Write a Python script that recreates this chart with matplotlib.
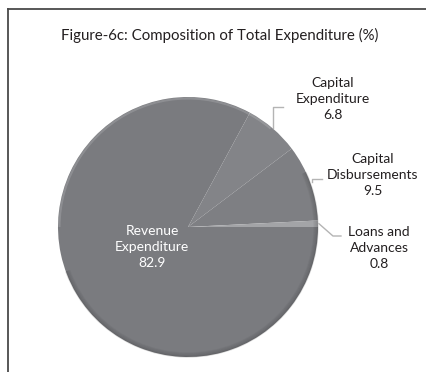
import numpy as np
import matplotlib
matplotlib.use("Agg")
import matplotlib.pyplot as plt
from matplotlib.patches import Arc
from matplotlib.lines import Line2D

plt.rcParams['font.family'] = ['Lato', 'DejaVu Sans']

# Composition of total expenditure (%), drawn clockwise from 3 o'clock
labels = ['Revenue\nExpenditure', 'Capital\nExpenditure', 'Capital\nDisbursements', 'Loans and\nAdvances']
shares = [82.9, 6.8, 9.5, 0.8]
colors = ['#7a7b7f', '#838488', '#7e7f83', '#a3a4a7']

W, H = 426, 372
fig = plt.figure(figsize=(W / 100, H / 100), dpi=100)
ax = fig.add_axes([0, 0, 1, 1])

cx, cy, r = 188, H - 227, 130
wedges, _ = ax.pie(shares, colors=colors, startangle=0, counterclock=False,
                   center=(cx, cy), radius=r, frame=True,
                   wedgeprops=dict(linewidth=0))

# soft bevel: light rim on top, gradually darker rim underneath
ax.add_patch(Arc((cx, cy), 2 * r - 3, 2 * r - 3, theta1=50, theta2=180,
                 color='white', alpha=0.15, lw=1.5))
for i, a in enumerate([0.04, 0.06, 0.08, 0.11, 0.14]):
    d = 2 * r - 8 + 2 * i
    ax.add_patch(Arc((cx, cy), d, d, theta1=200, theta2=385,
                     color='black', alpha=a, lw=1.0))

ax.set_xlim(0, W)
ax.set_ylim(0, H)
ax.set_aspect('equal')
ax.axis('off')


def rim_point(w, extra=0):
    mid = np.deg2rad((w.theta1 + w.theta2) / 2)
    return cx + (r + extra) * np.cos(mid), cy + (r + extra) * np.sin(mid)


lead = dict(color='#b4b4b4', lw=1)
txt = dict(ha='center', va='center', fontsize=10, color='#231f20', linespacing=1.4)

# Capital Expenditure
x0, y0 = rim_point(wedges[1])
ax.plot([x0, x0, x0 + 10], [y0, H - 107, H - 107], **lead)
ax.text(333, H - 99, f"{labels[1]}\n{shares[1]}", **txt)

# Capital Disbursements
x0, y0 = rim_point(wedges[2], 2)
ax.plot([x0, x0, x0 + 10], [y0, H - 179, H - 179], **lead)
ax.text(373, H - 175, f"{labels[2]}\n{shares[2]}", **txt)

# Loans and Advances
x0, y0 = rim_point(wedges[3], 1)
ax.plot([x0, x0 + 14, x0 + 22], [y0, H - 236, H - 236], **lead)
ax.text(379, H - 248, f"{labels[3]}\n{shares[3]}", **txt)

# Revenue Expenditure, inside the slice
ax.text(152, H - 247, f"{labels[0]}\n{shares[0]}", ha='center', va='center',
        fontsize=10, color='white', linespacing=1.4)

ax.text(220, H - 35, "Figure-6c: Composition of Total Expenditure (%)",
        ha='center', va='center', fontsize=10.8, color='#231f20')

# panel frame (top and left edges)
fig.add_artist(Line2D([8 / W, 1], [1 - 9 / H, 1 - 9 / H], color='#4a4a4a', lw=1.3))
fig.add_artist(Line2D([8 / W, 8 / W], [0, 1 - 9 / H], color='#4a4a4a', lw=1.3))

fig.savefig('out.png', dpi=100)
